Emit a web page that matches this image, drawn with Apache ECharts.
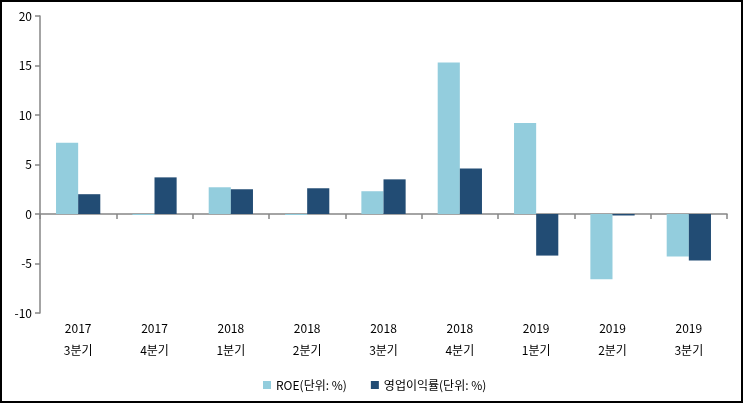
<!DOCTYPE html>
<html>
<head>
<meta charset="utf-8">
<script src="https://cdn.jsdelivr.net/npm/echarts@6/dist/echarts.min.js"></script>
<style>
html,body{margin:0;padding:0;background:#fff;}
#c{width:743px;height:403px;box-sizing:border-box;border:2px solid #000;}
</style>
</head>
<body>
<div id="c"></div>
<script>
var categories = ['2017\n3분기','2017\n4분기','2018\n1분기','2018\n2분기','2018\n3분기','2018\n4분기','2019\n1분기','2019\n2분기','2019\n3분기'];
var roe = [7.2, -0.1, 2.7, -0.1, 2.3, 15.3, 9.2, -6.6, -4.3];
var opMargin = [2.0, 3.7, 2.5, 2.6, 3.5, 4.6, -4.2, -0.15, -4.7];
var seriesNames = ['ROE(단위: %)', '영업이익률(단위: %)'];
var yTicks = {min: -10, max: 20, interval: 5};

var font = '"Noto Sans CJK KR", "Noto Sans", sans-serif';
var chart = echarts.init(document.getElementById('c'));
chart.setOption({
  animation: false,
  textStyle: {fontFamily: font},
  grid: {left: 38, right: 14, top: 14, bottom: 88},
  legend: {
    data: seriesNames,
    left: 256, top: 372,
    itemWidth: 8, itemHeight: 8, itemGap: 24,
    icon: 'rect',
    textStyle: {fontSize: 12, color: '#000', fontFamily: font}
  },
  xAxis: [{
    type: 'category', data: categories,
    axisLine: {onZero: true, lineStyle: {color: '#868686', width: 1.5}},
    axisTick: {show: true, length: 5, inside: false, lineStyle: {color: '#868686', width: 1.5}},
    axisLabel: {show: false}
  }, {
    type: 'category', data: categories, position: 'bottom',
    axisLine: {show: false}, axisTick: {show: false},
    axisLabel: {show: true, fontSize: 12, color: '#000', lineHeight: 22, margin: 4, fontFamily: font}
  }],
  yAxis: {
    type: 'value', min: yTicks.min, max: yTicks.max, interval: yTicks.interval,
    splitLine: {show: false},
    axisLine: {show: true, lineStyle: {color: '#868686', width: 1.5}},
    axisTick: {show: true, length: 5, lineStyle: {color: '#868686', width: 1.5}},
    axisLabel: {fontSize: 12, color: '#000', margin: 8, fontFamily: font}
  },
  series: [{
    name: seriesNames[0], type: 'bar', data: roe, xAxisIndex: 0,
    itemStyle: {color: '#93CDDD'}, barGap: '0%', barCategoryGap: '42%'
  }, {
    name: seriesNames[1], type: 'bar', data: opMargin, xAxisIndex: 0,
    itemStyle: {color: '#224C74'}, barGap: '0%', barCategoryGap: '42%'
  }]
});
</script>
</body>
</html>
